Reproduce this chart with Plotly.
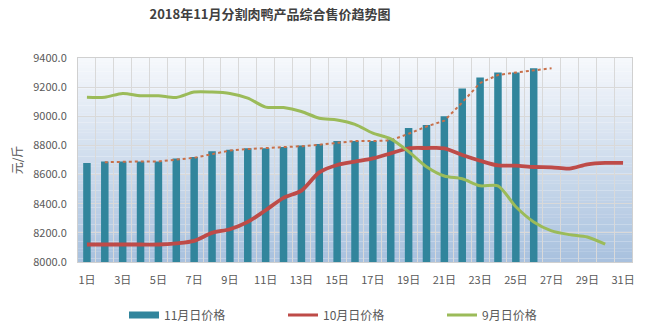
import plotly.graph_objects as go

days = list(range(1, 32))
tick_days = list(range(1, 32, 2))
tick_labels = [f"{d}日" for d in tick_days]

nov_price = [8680, 8690, 8690, 8690, 8690, 8710, 8720, 8760, 8770, 8780, 8780, 8790, 8800,
             8810, 8830, 8830, 8830, 8840, 8920, 8940, 9000, 9190, 9267, 9300, 9300, 9330,
             None, None, None, None, None]
oct_price = [8120, 8120, 8120, 8120, 8120, 8128, 8145, 8200, 8225, 8275, 8355, 8440, 8490,
             8615, 8666, 8689, 8711, 8746, 8780, 8782, 8780, 8734, 8695, 8663, 8661, 8652,
             8650, 8641, 8670, 8680, 8680]
sep_price = [9131, 9131, 9157, 9141, 9141, 9129, 9166, 9166, 9157, 9125, 9063, 9060, 9033,
             8987, 8975, 8945, 8884, 8845, 8757, 8654, 8590, 8571, 8523, 8523, 8379, 8275,
             8214, 8188, 8172, 8122, None]

# 2-period moving average trendline of the November bars
trend_x, trend_y = [], []
for i in range(1, len(days)):
    vals = [v for v in (nov_price[i - 1], nov_price[i]) if v is not None]
    if vals:
        trend_x.append(days[i])
        trend_y.append(sum(vals) / len(vals))

BAR = "#31859C"
RED = "#BE4B48"
GREEN = "#9BBB59"
TREND = "#C8704A"
FONT = "Noto Sans CJK SC"
GRAY = "#595959"

fig = go.Figure()

fig.add_trace(go.Bar(x=days, y=nov_price, width=0.42, marker=dict(color=BAR, line=dict(width=0)),
                     name="11月日价格", showlegend=False, legendgroup="nov"))
fig.add_trace(go.Scatter(x=trend_x, y=trend_y, mode="lines", line=dict(color=TREND, width=2, dash="dot"),
                         showlegend=False, hoverinfo="skip"))
fig.add_trace(go.Scatter(x=days, y=oct_price, mode="lines", name="10月日价格",
                         line=dict(color=RED, width=3.8, shape="spline", smoothing=0.8), showlegend=False))
fig.add_trace(go.Scatter(x=days, y=sep_price, mode="lines", name="9月日价格",
                         line=dict(color=GREEN, width=3, shape="spline", smoothing=0.8), showlegend=False))

# legend entries
fig.add_trace(go.Scatter(x=[None], y=[None], mode="lines", name="11月日价格",
                         line=dict(color=BAR, width=7), legendgroup="nov"))
fig.add_trace(go.Scatter(x=[None], y=[None], mode="lines", name="10月日价格",
                         line=dict(color=RED, width=3)))
fig.add_trace(go.Scatter(x=[None], y=[None], mode="lines", name="9月日价格",
                         line=dict(color=GREEN, width=3)))

# vertical gradient background in plot area
def lerp(c1, c2, t):
    return "rgb(%d,%d,%d)" % tuple(round(a + (b - a) * t) for a, b in zip(c1, c2))

top_c = (246, 248, 252)
bot_c = (168, 193, 222)
n = 60
shapes = []
for k in range(n):
    t = (k + 0.5) / n
    shapes.append(dict(type="rect", xref="x domain", yref="y domain", x0=0, x1=1,
                       y0=1 - (k + 1) / n, y1=1 - k / n + 0.001, layer="below",
                       fillcolor=lerp(top_c, bot_c, t), line=dict(width=0)))

fig.update_layout(
    width=646, height=326,
    margin=dict(l=78, r=14, t=58, b=64, autoexpand=False),
    paper_bgcolor="white", plot_bgcolor="rgba(0,0,0,0)",
    shapes=shapes,
    font=dict(family=FONT, color=GRAY, size=11),
    title=dict(text="<b>2018年11月分割肉鸭产品综合售价趋势图</b>", xref="container", yref="container",
               x=270 / 646, y=1 - 14 / 326, xanchor="center", yanchor="middle",
               font=dict(family=FONT, size=13, color="#404040")),
    showlegend=True,
    legend=dict(orientation="h", x=(124 - 78) / 554, xanchor="left", y=-(315 - 262) / 204, yanchor="middle",
                font=dict(family=FONT, size=12, color=GRAY), entrywidth=114, entrywidthmode="pixels",
                bgcolor="rgba(0,0,0,0)", itemclick=False),
    bargap=0.5,
)

fig.update_xaxes(range=[0.5, 31.5], tickmode="array", tickvals=tick_days, ticktext=tick_labels,
                 showgrid=False, zeroline=False, showline=True, linecolor="#d0d0d0", mirror=True,
                 ticks="", ticklabelstandoff=8, tickfont=dict(size=11, color=GRAY),
                 minor=dict(tickmode="array", tickvals=[d + 0.5 for d in days[:-1]], showgrid=True,
                            gridcolor="#d9d9d9", gridwidth=1, ticks=""))
fig.update_yaxes(range=[8000, 9400], dtick=200, tick0=8000, tickformat=".1f",
                 showgrid=True, gridcolor="#d9d9d9", gridwidth=1, zeroline=False,
                 showline=True, linecolor="#d0d0d0", mirror=True, ticks="", ticklabelstandoff=8,
                 tickfont=dict(size=11, color=GRAY),
                 title=dict(text="元/斤", standoff=8, font=dict(size=12, color=GRAY)))

fig.write_html("out.html")
